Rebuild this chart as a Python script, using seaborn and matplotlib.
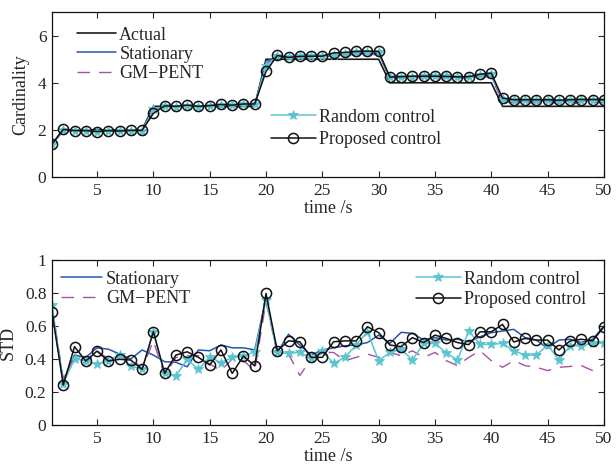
import numpy as np
import pandas as pd
import matplotlib
matplotlib.use("Agg")
import matplotlib.pyplot as plt
from matplotlib.lines import Line2D
import seaborn as sns

# ---- data -------------------------------------------------------------
time_s = list(range(1, 51))

card_actual = [1.4, 2, 2, 2, 2, 2, 2, 2, 2,
               3, 3, 3, 3, 3, 3, 3, 3, 3, 3,
               5, 5, 5, 5, 5, 5, 5, 5, 5, 5, 5,
               4, 4, 4, 4, 4, 4, 4, 4, 4, 4,
               3, 3, 3, 3, 3, 3, 3, 3, 3, 3]
card_stationary = [1.4, 1.98, 1.96, 1.96, 1.94, 1.96, 1.95, 1.97, 1.97,
                   2.85, 3.04, 3.02, 3.05, 3.02, 3.03, 3.06, 3.04, 3.07, 3.07,
                   4.9, 5.12, 5.1, 5.13, 5.13, 5.13, 5.17, 5.2, 5.22, 5.24, 5.24,
                   4.24, 4.24, 4.26, 4.26, 4.26, 4.25, 4.24, 4.24, 4.28, 4.3,
                   3.26, 3.23, 3.23, 3.23, 3.23, 3.22, 3.23, 3.24, 3.24, 3.26]
card_gmpent = [1.4, 1.95, 1.94, 1.94, 1.92, 1.94, 1.93, 1.95, 1.95,
               2.8, 3.0, 2.99, 3.02, 2.99, 3.0, 3.03, 3.01, 3.04, 3.04,
               4.8, 5.1, 5.08, 5.1, 5.1, 5.1, 5.14, 5.17, 5.2, 5.2, 5.2,
               4.2, 4.2, 4.22, 4.22, 4.22, 4.21, 4.2, 4.2, 4.24, 4.26,
               3.18, 3.15, 3.15, 3.15, 3.15, 3.14, 3.15, 3.16, 3.16, 3.18]
card_random = [1.4, 2.01, 1.96, 1.96, 1.92, 1.96, 1.94, 1.97, 1.97,
               2.88, 3.01, 2.99, 3.03, 2.99, 3.02, 3.06, 3.04, 3.08, 3.08,
               4.7, 5.14, 5.08, 5.13, 5.13, 5.13, 5.18, 5.24, 5.3, 5.31, 5.3,
               4.24, 4.24, 4.26, 4.27, 4.27, 4.27, 4.24, 4.24, 4.31, 4.36,
               3.3, 3.25, 3.25, 3.25, 3.25, 3.23, 3.25, 3.27, 3.27, 3.29]
card_proposed = [1.4, 2.02, 1.97, 1.97, 1.93, 1.97, 1.95, 1.98, 1.98,
                 2.7, 3.02, 3.0, 3.05, 3.0, 3.03, 3.08, 3.05, 3.1, 3.1,
                 4.48, 5.16, 5.08, 5.12, 5.13, 5.13, 5.27, 5.29, 5.33, 5.34, 5.33,
                 4.24, 4.26, 4.28, 4.28, 4.28, 4.27, 4.25, 4.26, 4.36, 4.41,
                 3.35, 3.28, 3.28, 3.28, 3.28, 3.26, 3.28, 3.29, 3.29, 3.28]

std_stationary = [0.69, 0.27, 0.424, 0.41, 0.468, 0.46, 0.43, 0.40, 0.455, 0.424,
                  0.384, 0.38, 0.353, 0.455, 0.45, 0.485, 0.468, 0.468, 0.455, 0.77,
                  0.44, 0.55, 0.485, 0.424, 0.455, 0.468, 0.48, 0.485, 0.50, 0.545,
                  0.495, 0.562, 0.556, 0.515, 0.53, 0.515, 0.52, 0.505, 0.535, 0.56,
                  0.57, 0.58, 0.53, 0.515, 0.465, 0.515, 0.52, 0.50, 0.52, 0.60]
std_gmpent = [0.72, 0.28, 0.41, 0.37, 0.45, 0.40, 0.41, 0.41, 0.34, 0.51,
              0.30, 0.41, 0.42, 0.42, 0.37, 0.33, 0.40, 0.39, 0.33, 0.75,
              0.43, 0.43, 0.30, 0.40, 0.44, 0.44, 0.39, 0.41, 0.43, 0.41,
              0.44, 0.42, 0.45, 0.41, 0.44, 0.39, 0.36, 0.41, 0.45, 0.39,
              0.35, 0.39, 0.36, 0.35, 0.33, 0.35, 0.355, 0.36, 0.33, 0.37]
std_random = [0.727, 0.25, 0.40, 0.39, 0.368, 0.39, 0.424, 0.358, 0.337, 0.566,
              0.313, 0.297, 0.398, 0.337, 0.414, 0.378, 0.41, 0.418, 0.444, 0.757,
              0.44, 0.434, 0.44, 0.404, 0.448, 0.374, 0.41, 0.485, 0.566, 0.39,
              0.44, 0.459, 0.394, 0.495, 0.495, 0.438, 0.394, 0.571, 0.489, 0.489,
              0.495, 0.45, 0.424, 0.424, 0.485, 0.394, 0.48, 0.48, 0.499, 0.495]
std_proposed = [0.687, 0.243, 0.475, 0.388, 0.448, 0.388, 0.398, 0.394, 0.337, 0.566,
                0.313, 0.424, 0.444, 0.41, 0.364, 0.455, 0.313, 0.418, 0.358, 0.798,
                0.45, 0.51, 0.505, 0.41, 0.41, 0.505, 0.51, 0.51, 0.596, 0.56,
                0.485, 0.475, 0.53, 0.50, 0.545, 0.525, 0.50, 0.487, 0.565, 0.565,
                0.61, 0.503, 0.525, 0.515, 0.515, 0.455, 0.51, 0.52, 0.51, 0.596]

x_ticks = [5, 10, 15, 20, 25, 30, 35, 40, 45, 50]
card_yticks = [0, 2, 4, 6]
std_yticks = [0, 0.2, 0.4, 0.6, 0.8, 1]
std_yticklabels = ["0", "0.2", "0.4", "0.6", "0.8", "1"]

# ---- style ------------------------------------------------------------
sns.set_style("ticks")
plt.rcParams["font.family"] = ["Liberation Serif", "DejaVu Serif"]
plt.rcParams["xtick.direction"] = "in"
plt.rcParams["ytick.direction"] = "in"

C_ACTUAL = "#1a1a1a"
C_STAT = "#2456b0"
C_GM = "#a84fa8"
C_RAND = "#5bc5cf"
C_PROP = "#111111"
GM_DASH = (0, (9, 6.5))

fig = plt.figure(figsize=(6.16, 4.67), dpi=100)
ax1 = fig.add_axes([0.0844, 0.621, 0.896, 0.353])
ax2 = fig.add_axes([0.0844, 0.090, 0.896, 0.353])

star_kw = dict(marker="*", markersize=7, markeredgewidth=0.6,
               markerfacecolor=C_RAND, markeredgecolor=C_RAND)
circ_kw = dict(marker="o", markersize=7.3, markeredgewidth=1.1,
               markerfacecolor="none", markeredgecolor=C_PROP)


def draw_series(ax, actual, stat, gm, rand, prop):
    if actual is not None:
        sns.lineplot(x=time_s, y=actual, ax=ax, color=C_ACTUAL, lw=1.2, legend=False)
    sns.lineplot(x=time_s, y=stat, ax=ax, color=C_STAT, lw=1.1, legend=False)
    sns.lineplot(x=time_s, y=gm, ax=ax, color=C_GM, lw=1.0, linestyle=GM_DASH,
                 legend=False)
    sns.lineplot(x=time_s, y=rand, ax=ax, color=C_RAND, lw=1.1, legend=False,
                 **star_kw)
    sns.lineplot(x=time_s, y=prop, ax=ax, color=C_PROP, lw=1.1, legend=False,
                 **circ_kw)


draw_series(ax1, card_actual, card_stationary, card_gmpent, card_random, card_proposed)
draw_series(ax2, None, std_stationary, std_gmpent, std_random, std_proposed)

h_actual = Line2D([], [], color=C_ACTUAL, lw=1.2)
h_stat = Line2D([], [], color=C_STAT, lw=1.1)
h_gm = Line2D([], [], color=C_GM, lw=1.0, linestyle=GM_DASH)
h_rand = Line2D([], [], color=C_RAND, lw=1.1, **star_kw)
h_prop = Line2D([], [], color=C_PROP, lw=1.1, **circ_kw)

leg_kw = dict(frameon=False, fontsize=13, handletextpad=0.2,
              borderpad=0.0, borderaxespad=0.0)

for ax in (ax1, ax2):
    ax.set_xlim(1, 50)
    ax.set_xticks(x_ticks)
    ax.tick_params(axis="both", which="both", direction="in", top=True, right=True,
                   labelsize=12.5, length=4, width=0.8, pad=4)
    for s in ax.spines.values():
        s.set_linewidth(0.9)
        s.set_color("#111111")
        s.set_visible(True)
    ax.set_xlabel("time /s", fontsize=13, labelpad=1)

ax1.set_ylim(0, 7)
ax1.set_yticks(card_yticks)
ax1.set_ylabel("Cardinality", fontsize=13, labelpad=6)
ax2.set_ylim(0, 1)
ax2.set_yticks(std_yticks)
ax2.set_yticklabels(std_yticklabels)
ax2.set_ylabel("STD", fontsize=13, labelpad=6)

leg1 = ax1.legend([h_actual, h_stat, h_gm], ["Actual", "Stationary", "GM\u2212PENT"],
                  loc="upper left", bbox_to_anchor=(0.045, 0.912),
                  handlelength=2.15, labelspacing=0.12, **leg_kw)
ax1.add_artist(leg1)
ax1.legend([h_rand, h_prop], ["Random control", "Proposed control"],
           loc="upper left", bbox_to_anchor=(0.396, 0.414),
           handlelength=2.5, labelspacing=0.3, **leg_kw)

leg3 = ax2.legend([h_stat, h_gm], ["Stationary", "GM\u2212PENT"],
                  loc="upper left", bbox_to_anchor=(0.016, 0.936),
                  handlelength=2.3, labelspacing=0.12, **leg_kw)
ax2.add_artist(leg3)
ax2.legend([h_rand, h_prop], ["Random control", "Proposed control"],
           loc="upper left", bbox_to_anchor=(0.66, 0.936),
           handlelength=2.45, labelspacing=0.18, **leg_kw)

fig.savefig("out.png", dpi=100)
